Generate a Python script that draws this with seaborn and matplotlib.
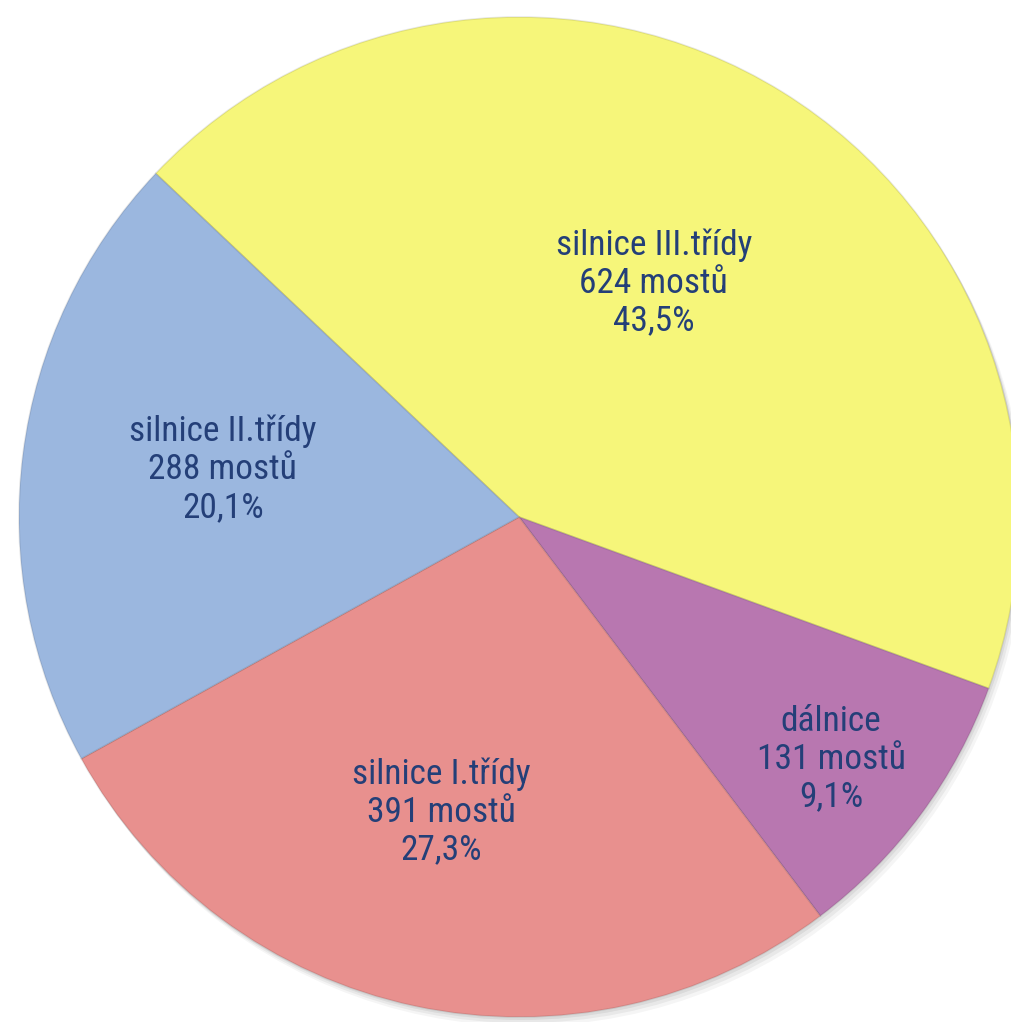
import numpy as np
import matplotlib
matplotlib.use("Agg")
import matplotlib.pyplot as plt
import seaborn as sns
from matplotlib import font_manager
from matplotlib.patches import Circle

# data
categories = ["silnice III.třídy", "dálnice", "silnice I.třídy", "silnice II.třídy"]
bridges = [624, 131, 391, 288]
percents = ["43,5%", "9,1%", "27,3%", "20,1%"]
colors = ["#F6F67A", "#B877B0", "#E8908E", "#9BB7DF"]

sns.set_theme(style="white")
names = {f.name for f in font_manager.fontManager.ttflist}
# narrow font like the original if we have one, else something close
font_opts = [("Liberation Sans Narrow", 27, 1.0), ("Roboto Condensed", 25.5, 1.18),
             ("Liberation Sans", 24, 1.08)]
family, fsize, lsp = next(o for o in font_opts if o[0] in names)
plt.rcParams["font.family"] = [family, "DejaVu Sans"]

fig = plt.figure(figsize=(10.11, 10.22), dpi=100)
ax = fig.add_axes([19 / 1011, 5 / 1022, 1000 / 1011, 1000 / 1022])

# soft shadow under the pie
for k, a in enumerate([0.06, 0.05, 0.04]):
    sh = Circle((0.004 * (k + 1), -0.006 * (k + 1)), 1.0, color="black", alpha=a,
                lw=0, zorder=0, clip_on=False)
    ax.add_patch(sh)

wedges, _ = ax.pie(
    bridges,
    colors=colors,
    startangle=136.6,
    counterclock=False,
    radius=1.0,
    wedgeprops=dict(linewidth=1.2, edgecolor="#00000018", zorder=2),
)
for w in wedges:
    w.set_clip_on(False)

# label placement per slice (layout only)
label_r = [0.54, 0.79, 0.61, 0.60]
label_da = [1.8, -1.3, -2.8, -1.9]
for w, cat, n, p, r, da in zip(wedges, categories, bridges, percents, label_r, label_da):
    ang = np.deg2rad((w.theta1 + w.theta2) / 2 + da)
    ax.text(r * np.cos(ang), r * np.sin(ang), f"{cat}\n{n} mostů\n{p}",
            ha="center", va="center", fontsize=fsize, color="#243F78",
            linespacing=lsp, zorder=3)

ax.set_xlim(-1, 1)
ax.set_ylim(-1, 1)
ax.axis("off")

fig.savefig("out.png", dpi=100)
